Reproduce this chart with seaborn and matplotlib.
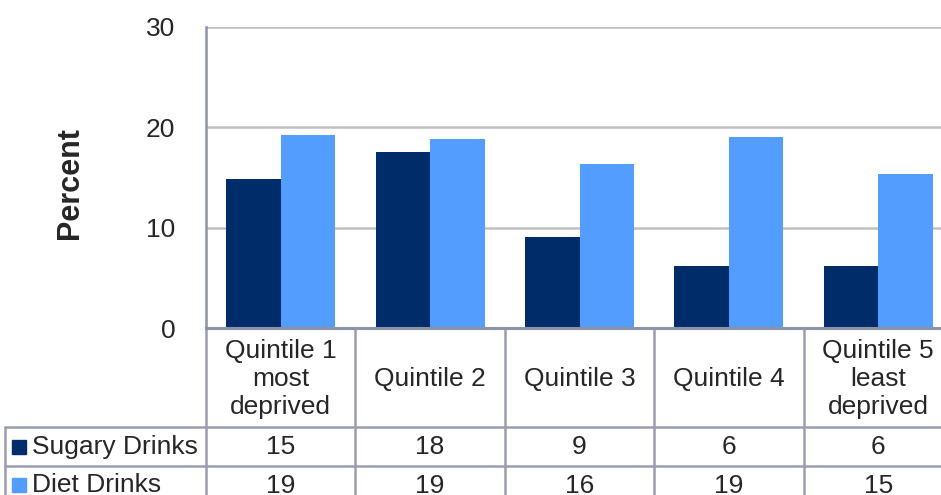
import matplotlib
matplotlib.use("Agg")
import matplotlib.pyplot as plt
import matplotlib.transforms as mtransforms
from matplotlib.patches import Rectangle
import seaborn as sns
import pandas as pd

categories = ["Quintile 1\nmost\ndeprived", "Quintile 2", "Quintile 3", "Quintile 4", "Quintile 5\nleast\ndeprived"]
series_names = ["Sugary Drinks", "Diet Drinks"]
sugary = [14.9, 17.5, 9.1, 6.2, 6.2]
diet = [19.2, 18.8, 16.3, 19.05, 15.3]
sugary_table = ["15", "18", "9", "6", "6"]
diet_table = ["19", "19", "16", "19", "15"]
colors = ["#002D69", "#539DFF"]

sns.set_style("white")
plt.rcParams['font.family'] = ['Liberation Sans', 'DejaVu Sans']

df = pd.DataFrame({
    "cat": categories * 2,
    "series": [series_names[0]] * 5 + [series_names[1]] * 5,
    "value": sugary + diet,
})

FS = 19
W, H = 941, 495
fig = plt.figure(figsize=(W / 100, H / 100), dpi=100)
left, right, top, bottom = 206, 953, 27, 328
ax = fig.add_axes([left / W, 1 - bottom / H, (right - left) / W, (bottom - top) / H])

sns.barplot(data=df, x="cat", y="value", hue="series", order=categories,
            hue_order=series_names, palette=colors, width=0.73, gap=0,
            saturation=1, ax=ax, legend=False, edgecolor="none")

ax.set_ylim(0, 30)
ax.set_xlim(-0.5, 4.5)
ax.set_yticks([0, 10, 20, 30])
ax.set_yticklabels(["0", "10", "20", "30"], fontsize=FS)
ax.tick_params(axis="y", length=0, pad=22)
ax.set_xticks([])
ax.set_xlabel("")
ax.set_ylabel("")
fig.text(70 / W, 1 - 183 / H, "Percent", rotation=90, ha="center", va="center",
         fontsize=22, fontweight="bold")
ax.grid(axis="y", color="#C0C0C0", linewidth=1.8)
ax.set_axisbelow(True)
for s in ["top", "right"]:
    ax.spines[s].set_visible(False)
ax.spines["left"].set_color("#8E92A6")
ax.spines["left"].set_linewidth(1.8)
ax.spines["bottom"].set_color("#8E92A6")
ax.spines["bottom"].set_linewidth(2.2)

# Data table
trans = mtransforms.blended_transform_factory(ax.transData, ax.transAxes)
ph = bottom - top
px_per_cat = (right - left) / 5.0
def yf(py):
    return (bottom - py) / ph
x_left_edge = -0.5 - (left - 4.5) / px_per_cat
y_hdr = yf(427)
y_r1 = yf(466)
y_r2 = yf(506)
lc = "#9A9DB0"
lw = 1.8
ax.plot([x_left_edge, 4.5], [y_hdr, y_hdr], transform=trans, color=lc, lw=lw, clip_on=False)
ax.plot([x_left_edge, 4.5], [y_r1, y_r1], transform=trans, color=lc, lw=lw, clip_on=False)
ax.plot([x_left_edge, 4.5], [y_r2, y_r2], transform=trans, color=lc, lw=lw, clip_on=False)
ax.plot([x_left_edge, x_left_edge], [y_hdr, y_r2], transform=trans, color=lc, lw=lw, clip_on=False)
for i in range(6):
    xb = -0.5 + i
    ax.plot([xb, xb], [0, y_r2], transform=trans, color=lc, lw=lw, clip_on=False)

for i, c in enumerate(categories):
    ax.text(i, yf(379), c, transform=trans, ha="center", va="center",
            fontsize=FS, linespacing=1.2, clip_on=False)
    ax.text(i, yf(447), sugary_table[i], transform=trans, ha="center",
            va="center", fontsize=FS, clip_on=False)
    ax.text(i, yf(486), diet_table[i], transform=trans, ha="center",
            va="center", fontsize=FS, clip_on=False)

for name, col, yc in zip(series_names, colors, [447, 485]):
    fig.patches.append(Rectangle((12 / W, 1 - (yc + 7) / H), 14 / W, 14 / H,
                                 transform=fig.transFigure, color=col))
    ax.text(x_left_edge + 28 / px_per_cat, yf(yc), name, transform=trans, ha="left",
            va="center", fontsize=FS, clip_on=False)

fig.savefig("out.png", dpi=100)
